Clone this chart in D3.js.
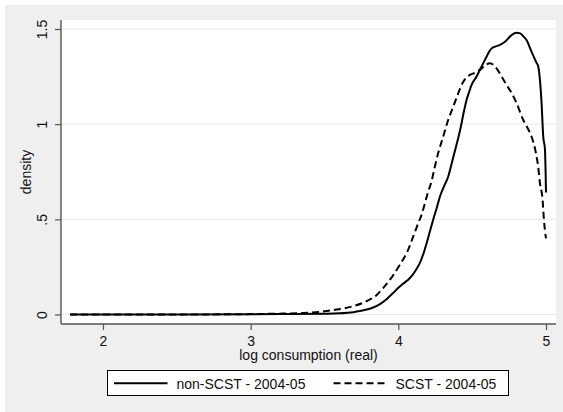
<!DOCTYPE html>
<html>
<head>
<meta charset="utf-8">
<script src="https://cdn.jsdelivr.net/npm/d3@7"></script>
<style>
  html, body { margin: 0; padding: 0; background: #ffffff; }
  text { font-family: "Liberation Sans", Arial, sans-serif; }
</style>
</head>
<body>
<svg id="chart" width="563" height="412"></svg>
<script>
// Kernel density of log real consumption, two groups (2004-05)
const xTicks = [2, 3, 4, 5];
const yTicks = [0, 0.5, 1, 1.5];
const yTickLabels = ["0", ".5", "1", "1.5"];

const nonScstX = [1.777, 2.5, 3.2, 3.5, 3.6, 3.695, 3.74, 3.785, 3.83, 3.876, 3.92, 3.966, 4.0, 4.03, 4.06,
  4.09, 4.12, 4.146, 4.17, 4.192, 4.215, 4.236, 4.26, 4.282, 4.31, 4.338, 4.36, 4.38, 4.40, 4.42,
  4.445, 4.462, 4.48, 4.496, 4.53, 4.555, 4.575, 4.595, 4.609, 4.632, 4.654, 4.688, 4.722,
  4.767, 4.8, 4.825, 4.846, 4.868, 4.902, 4.936, 4.947, 4.959, 4.970, 4.981, 4.993, 5.0];
const nonScstY = [0, 0, 0.002, 0.004, 0.006, 0.012, 0.018, 0.026, 0.037, 0.055, 0.08, 0.114, 0.14, 0.16, 0.178,
  0.201, 0.235, 0.271, 0.32, 0.376, 0.44, 0.498, 0.56, 0.62, 0.675, 0.725, 0.79, 0.85, 0.91, 0.975,
  1.07, 1.127, 1.17, 1.206, 1.25, 1.29, 1.32, 1.35, 1.372, 1.398, 1.407, 1.416, 1.433,
  1.468, 1.48, 1.477, 1.462, 1.442, 1.381, 1.322, 1.304, 1.233, 1.111, 0.937, 0.866, 0.641];

const scstX = [1.777, 2.5, 3.0, 3.221, 3.356, 3.469, 3.582, 3.695, 3.785, 3.85, 3.898, 3.955, 4.011, 4.04,
  4.067, 4.101, 4.135, 4.16, 4.18, 4.2, 4.225, 4.245, 4.27, 4.304, 4.338, 4.372, 4.406, 4.44, 4.47,
  4.485, 4.52, 4.552, 4.59, 4.62, 4.665, 4.7, 4.733, 4.77, 4.801, 4.846, 4.875, 4.902, 4.932, 4.947,
  4.959, 4.977, 4.986, 5.0];
const scstY = [0, 0, 0.002, 0.005, 0.008, 0.014, 0.026, 0.044, 0.07, 0.1, 0.14, 0.195, 0.262, 0.3,
  0.341, 0.41, 0.48, 0.53, 0.585, 0.64, 0.7, 0.769, 0.848, 0.935, 1.023, 1.092, 1.163, 1.223, 1.25,
  1.259, 1.27, 1.285, 1.31, 1.32, 1.293, 1.25, 1.206, 1.16, 1.11, 1.022, 0.98, 0.935, 0.847, 0.777,
  0.689, 0.602, 0.497, 0.4];

const seriesNames = ["non-SCST - 2004-05", "SCST - 2004-05"];

const svg = d3.select("#chart");
const W = 563, H = 412;
const plot = { left: 61, right: 556, top: 20, bottom: 324 };

// outer panel
svg.append("rect").attr("x", 5).attr("y", 5).attr("width", W - 5).attr("height", H - 5).attr("fill", "#efefef");
svg.append("rect").attr("x", plot.left).attr("y", plot.top)
  .attr("width", plot.right - plot.left).attr("height", plot.bottom - plot.top).attr("fill", "#ffffff");

const x = d3.scaleLinear().domain([1.7156, 5.0677]).range([plot.left, plot.right]);
const y = d3.scaleLinear().domain([-0.0499, 1.5472]).range([plot.bottom, plot.top]);

// horizontal grid
svg.append("g").selectAll("line").data(yTicks).join("line")
  .attr("x1", plot.left).attr("x2", plot.right)
  .attr("y1", d => y(d)).attr("y2", d => y(d))
  .attr("stroke", "#e8e8e8").attr("stroke-width", 1);

// curves
const line = d3.line().x(d => x(d[0])).y(d => y(d[1])).curve(d3.curveMonotoneX);
const nonScst = nonScstX.map((v, i) => [v, nonScstY[i]]);
const scst = scstX.map((v, i) => [v, scstY[i]]);

svg.append("path").datum(scst).attr("d", line)
  .attr("fill", "none").attr("stroke", "#000").attr("stroke-width", 2)
  .attr("stroke-dasharray", "7,4").attr("stroke-linejoin", "round");
svg.append("path").datum(nonScst).attr("d", line)
  .attr("fill", "none").attr("stroke", "#000").attr("stroke-width", 2)
  .attr("stroke-linejoin", "round");

// axes
const axisColor = "#555555";
const yAxis = d3.axisLeft(y).tickValues(yTicks).tickSize(6).tickFormat((d, i) => yTickLabels[i]);
const gy = svg.append("g").attr("transform", `translate(${plot.left},0)`).call(yAxis);
gy.select(".domain").attr("d", `M0,${plot.top}V${plot.bottom}`).attr("stroke", axisColor).attr("stroke-width", 1.4);
gy.selectAll(".tick line").attr("stroke", axisColor).attr("stroke-width", 1.2);
gy.selectAll(".tick text")
  .attr("x", null).attr("dy", null)
  .attr("transform", "translate(-14.5,0) rotate(-90)")
  .attr("text-anchor", "middle")
  .attr("font-size", 14).attr("fill", "#111")
  .style("font-family", "'Liberation Sans', Arial, sans-serif");

const xAxis = d3.axisBottom(x).tickValues(xTicks).tickSize(6).tickFormat(d3.format("d"));
const gx = svg.append("g").attr("transform", `translate(0,${plot.bottom})`).call(xAxis);
gx.select(".domain").attr("d", `M${plot.left},0H${plot.right}`).attr("stroke", axisColor).attr("stroke-width", 1.4);
gx.selectAll(".tick line").attr("stroke", axisColor).attr("stroke-width", 1.2);
gx.selectAll(".tick text")
  .attr("y", 21.5).attr("dy", null)
  .attr("font-size", 14).attr("fill", "#111")
  .style("font-family", "'Liberation Sans', Arial, sans-serif");

// axis titles
svg.append("text").attr("x", (plot.left + plot.right) / 2).attr("y", 360)
  .attr("text-anchor", "middle").attr("font-size", 14).attr("fill", "#111")
  .text("log consumption (real)");
svg.append("text").attr("transform", `translate(31,${(plot.top + plot.bottom) / 2}) rotate(-90)`)
  .attr("text-anchor", "middle").attr("font-size", 14).attr("fill", "#111")
  .text("density");

// legend
const lg = svg.append("g");
lg.append("rect").attr("x", 107.5).attr("y", 370.5).attr("width", 401).attr("height", 25)
  .attr("fill", "#ffffff").attr("stroke", "#000").attr("stroke-width", 1);
const legendItems = [
  { name: seriesNames[0], x0: 114, x1: 167.5, tx: 176.5, dash: null },
  { name: seriesNames[1], x0: 333.5, x1: 386, tx: 395.5, dash: "7,4" }
];
legendItems.forEach(it => {
  lg.append("line").attr("x1", it.x0).attr("x2", it.x1).attr("y1", 383.3).attr("y2", 383.3)
    .attr("stroke", "#000").attr("stroke-width", 2).attr("stroke-dasharray", it.dash);
  lg.append("text").attr("x", it.tx).attr("y", 388.5).attr("font-size", 14).attr("fill", "#111")
    .text(it.name);
});
</script>
</body>
</html>
